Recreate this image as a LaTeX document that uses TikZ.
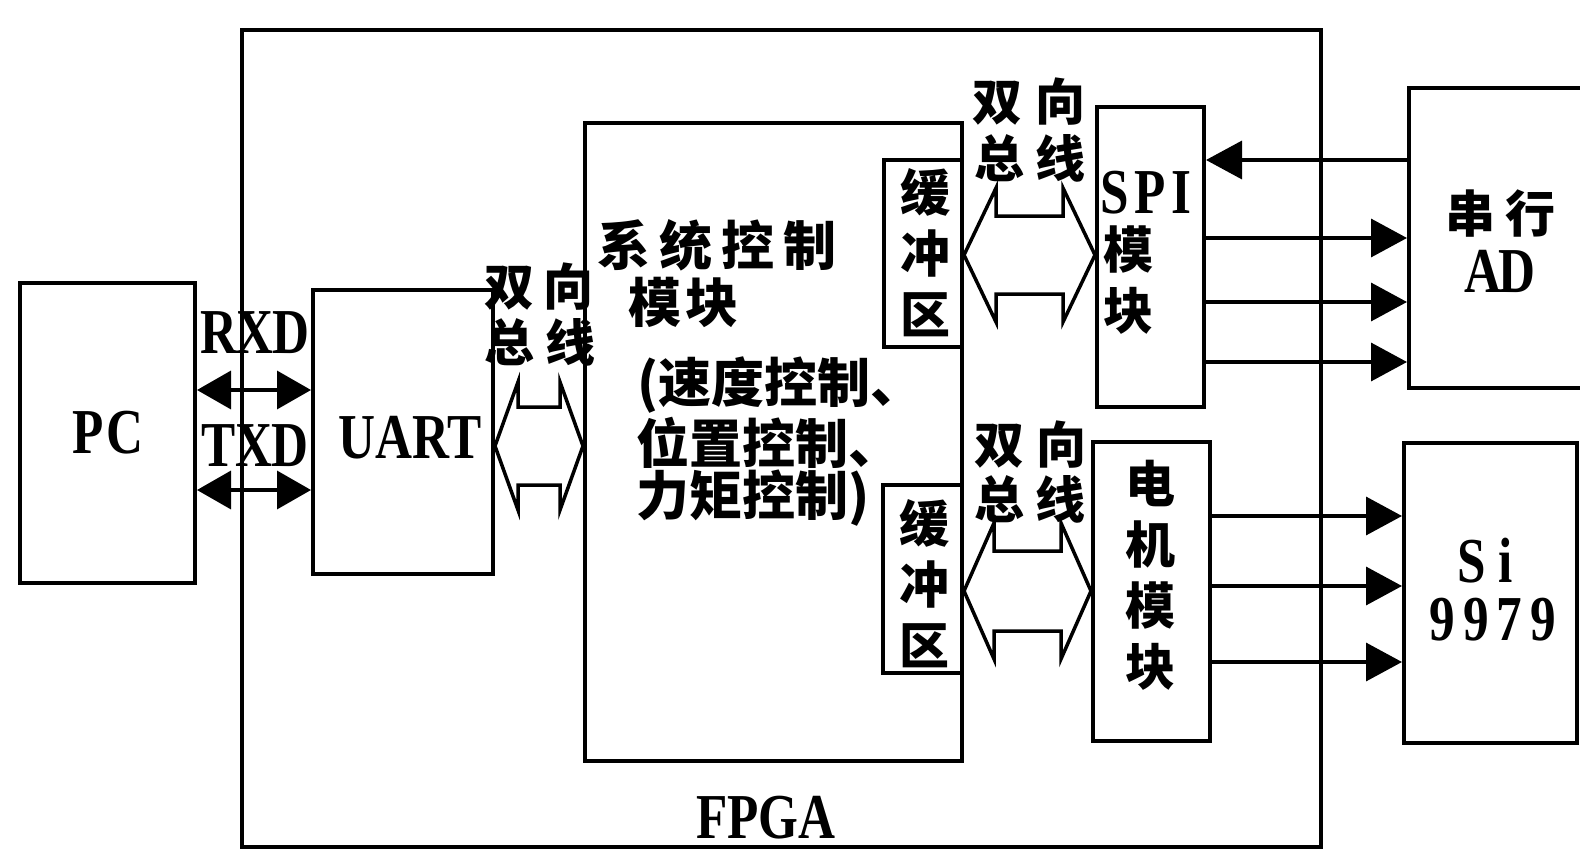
\documentclass[tikz,border=0pt]{standalone}
\usepackage{fontspec}
\newfontfamily\lat{Liberation Serif}[FakeStretch=0.8]
\newfontfamily\cjk{Noto Sans CJK SC}
\usetikzlibrary{arrows.meta,calc}
\tikzset{
 box/.style={draw, line width=4pt, inner sep=0pt},
 lt/.style={font=\lat\bfseries\fontsize{64}{70}\selectfont, inner sep=0pt},
 ct/.style={font=\cjk\bfseries\fontsize{50}{61}\selectfont, inner sep=0pt},
 cbig/.style={font=\cjk\bfseries\fontsize{53}{61}\selectfont, inner sep=0pt},
 arr/.style={line width=3.5pt, -{Triangle[length=36pt,width=38pt]}},
 dbl/.style={line width=3.5pt, {Triangle[length=34pt,width=38pt]}-{Triangle[length=34pt,width=38pt]}},
 busline/.style={line width=3.5pt, line join=miter},
}
\newcommand\busarrow[5]{%
 \draw[busline] (#1) -- ($(#1)+(#3,-#4)$) -- ($(#1)+(#3,-#5)$) -- ($(#2)+(-#3,-#5)$) -- ($(#2)+(-#3,-#4)$) -- (#2) -- ($(#2)+(-#3,#4)$) -- ($(#2)+(-#3,#5)$) -- ($(#1)+(#3,#5)$) -- ($(#1)+(#3,#4)$) -- cycle;}
\begin{document}
\begin{tikzpicture}[x=1pt,y=-1pt]
\useasboundingbox (0,0) rectangle (1580,851);
\clip (0,0) rectangle (1580,851);
% boxes
\node[box, minimum width=1079pt, minimum height=817pt] (fpga) at (781.5,438.5) {};
\node[box, minimum width=175pt, minimum height=300pt] (pc) at (107.5,433) {};
\node[box, minimum width=180pt, minimum height=284pt] (uart) at (403,432) {};
\node[box, minimum width=377pt, minimum height=638pt] (sys) at (773.5,442) {};
\node[box, minimum width=78pt, minimum height=187pt] (buf1) at (923,253.5) {};
\node[box, minimum width=79pt, minimum height=188pt] (buf2) at (922.5,579) {};
\node[box, minimum width=107pt, minimum height=300pt] (spi) at (1150.5,257) {};
\node[box, minimum width=117pt, minimum height=299pt] (motor) at (1151.5,591.5) {};
\node[box, minimum width=200pt, minimum height=300pt] (ad) at (1509,238) {};
\node[box, minimum width=173pt, minimum height=300pt] (si) at (1490.5,593) {};
% latin texts
\node[lt] (tpc) at (108,433) {P\kern3pt C};
\node[lt] (tuart) at (410,438) {UART};
\node[lt] (trxd) at (255,333) {R\kern-1pt X\kern-1pt D};
\node[lt] (ttxd) at (255,446) {T\kern-1pt X\kern-1pt D};
\node[lt] (tfpga) at (766,818) {FPGA};
\node[lt] (tspi) at (1146,193) {S\kern6pt P\kern6pt I};
\node[lt] (tsi) at (1485,561) {S\kern13pt i};
\node[lt] (t9979) at (1493,620) {9\kern8pt 9\kern8pt 7\kern8pt 9};
\node[lt] (tad2) at (1500,271) {A\kern-3pt D};
% cjk texts
\node[ct] (tad1) at (1500,214) {串\hspace{10pt}行};
\node[ct, align=center] (tspi2) at (1128,280) {模\\块};
\node[ct, align=center] (tbuf1) at (925,253) {缓\\冲\\区};
\node[ct, align=center] (tbuf2) at (924,584) {缓\\冲\\区};
\node[ct, align=center] (tmotor) at (1150,575) {电\\机\\模\\块};
\node[cbig, anchor=west] (s1) at (597,245) {系\hspace{9pt}统\hspace{9pt}控\hspace{9pt}制};
\node[cbig, anchor=west] (s2) at (628,302) {模\hspace{4pt}块};
\node[cbig, anchor=west] (s3) at (637,385) {(速度控制、};
\node[cbig, anchor=west] (s4) at (636,443) {位置控制、};
\node[cbig, anchor=west] (s5) at (636,498) {力矩控制)};
\node[ct] (bl1) at (539,287) {双\hspace{9pt}向};
\node[ct] (bl2) at (540,342) {总\hspace{11pt}线};
\node[ct] (bu1) at (1029,102) {双\hspace{13pt}向};
\node[ct] (bu2) at (1030,158) {总\hspace{11pt}线};
\node[ct] (bd1) at (1030,445) {双\hspace{12pt}向};
\node[ct] (bd2) at (1030,499) {总\hspace{11pt}线};
% rows
\coordinate (yr) at (0,390);
\coordinate (yt) at (0,490);
\coordinate (y1) at (0,160);
\coordinate (y2) at (0,238);
\coordinate (y3) at (0,302);
\coordinate (y4) at (0,362);
\coordinate (y5) at (0,516);
\coordinate (y6) at (0,586);
\coordinate (y7) at (0,662);
\coordinate (yb1) at (0,446);
\coordinate (yb2) at (0,255);
\coordinate (yb3) at (0,591);
% serial lines
\draw[dbl] (pc.east |- yr) -- (uart.west |- yr);
\draw[dbl] (pc.east |- yt) -- (uart.west |- yt);
% AD and Si lines
\draw[arr] (ad.west |- y1) -- (spi.east |- y1);
\draw[arr] (spi.east |- y2) -- (ad.west |- y2);
\draw[arr] (spi.east |- y3) -- (ad.west |- y3);
\draw[arr] (spi.east |- y4) -- (ad.west |- y4);
\draw[arr] (motor.east |- y5) -- (si.west |- y5);
\draw[arr] (motor.east |- y6) -- (si.west |- y6);
\draw[arr] (motor.east |- y7) -- (si.west |- y7);
% buses
\coordinate (b1l) at (uart.east |- yb1);
\coordinate (b1r) at (sys.west |- yb1);
\busarrow{b1l}{b1r}{23}{64}{39}
\coordinate (b2l) at (buf1.east |- yb2);
\coordinate (b2r) at (spi.west |- yb2);
\busarrow{b2l}{b2r}{32}{67}{39}
\coordinate (b3l) at (buf2.east |- yb3);
\coordinate (b3r) at (motor.west |- yb3);
\busarrow{b3l}{b3r}{30}{68}{40}
\end{tikzpicture}
\end{document}
